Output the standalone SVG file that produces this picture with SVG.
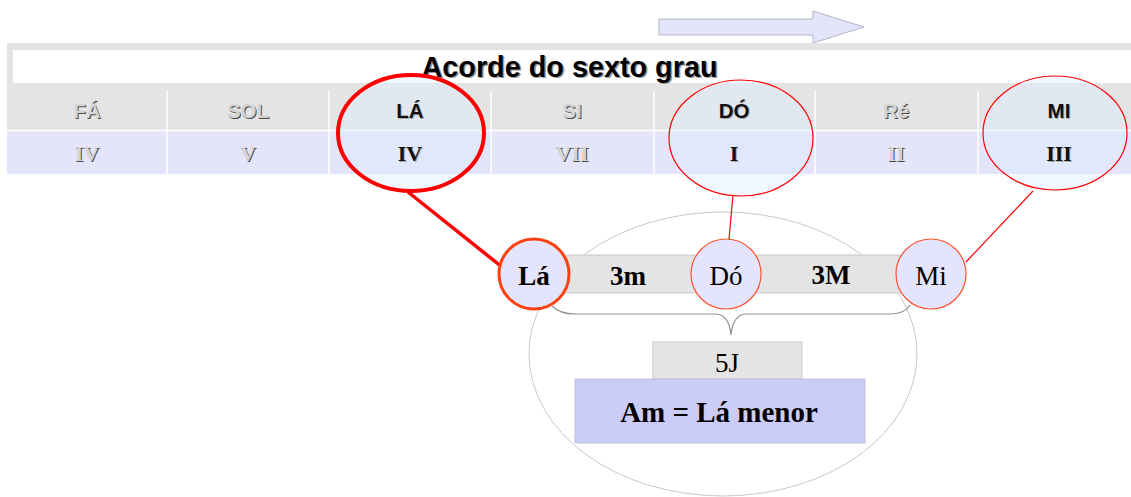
<svg xmlns="http://www.w3.org/2000/svg" width="1131" height="497" viewBox="0 0 1131 497">
<style>
.hd{font-family:"Liberation Sans",Arial,sans-serif;font-weight:bold;font-size:20.5px;text-anchor:middle}
.rn{font-family:"Liberation Serif","Times New Roman",serif;font-weight:bold;font-size:22px;text-anchor:middle}
.dim{fill:#d4d4d4}
.sh{fill:#4a4a4a}
.blk{fill:#111}
.shl{fill:#aaa}
.nt{font-family:"Liberation Serif","Times New Roman",serif;font-size:27px;text-anchor:middle;fill:#000}
.b{font-weight:bold}
.big{font-size:29px}
.sel{fill:#e0eeff;fill-opacity:0.45;stroke:#ff0000}
.nd{fill:#e4e4fc}
.box{fill:#e4e4e4;stroke:#c8c8c8;stroke-width:1}
</style>
<rect width="1131" height="497" fill="#fff"/>
<g id="arrow">
<polygon points="659,19 813,19 813,11 864,27 813,43 813,35 659,35" fill="#e4e4fa" stroke="#b4b4c4" stroke-width="1"/>
</g>
<g id="title">
<rect x="7" y="43" width="1130" height="48" fill="#e4e4e4"/>
<rect x="13" y="50" width="1130" height="33" fill="#fff"/>
<text x="571" y="78" font-family="Liberation Sans, Arial, sans-serif" font-weight="bold" font-size="28.8" text-anchor="middle" fill="#999">Acorde do sexto grau</text>
<text x="569.5" y="76.5" font-family="Liberation Sans, Arial, sans-serif" font-weight="bold" font-size="28.8" text-anchor="middle" fill="#000">Acorde do sexto grau</text>
</g>
<g id="table">
<rect x="7" y="91" width="1130" height="39" fill="#e4e4e4"/>
<rect x="7" y="131" width="1130" height="43" fill="#e4e4fa"/>
<line x1="7" y1="130.5" x2="1131" y2="130.5" stroke="#fff" stroke-width="1.5"/>
<g stroke="#fff" stroke-width="1.5">
<line x1="167" y1="91" x2="167" y2="174"/><line x1="329" y1="91" x2="329" y2="174"/>
<line x1="491" y1="91" x2="491" y2="174"/><line x1="654" y1="91" x2="654" y2="174"/>
<line x1="815" y1="91" x2="815" y2="174"/><line x1="978" y1="91" x2="978" y2="174"/>
</g>
</g>
<g id="sel-la"><ellipse cx="411" cy="133" rx="73" ry="58" class="sel" stroke-width="4"/></g>
<g id="sel-do"><ellipse cx="741" cy="138" rx="72" ry="58" class="sel" stroke-width="1.2"/></g>
<g id="sel-mi"><ellipse cx="1055" cy="133" rx="72" ry="57" class="sel" stroke-width="1.2"/></g>
<g id="table-text">
<g class="hd">
<text x="88" y="119" class="sh">FÁ</text><text x="87" y="118" class="dim">FÁ</text>
<text x="249" y="119" class="sh">SOL</text><text x="248" y="118" class="dim">SOL</text>
<text x="411" y="119" class="shl">LÁ</text><text x="410" y="118" class="blk">LÁ</text>
<text x="573" y="119" class="sh">SI</text><text x="572" y="118" class="dim">SI</text>
<text x="735" y="119" class="shl">DÓ</text><text x="734" y="118" class="blk">DÓ</text>
<text x="897" y="119" class="sh">Ré</text><text x="896" y="118" class="dim">Ré</text>
<text x="1060" y="119" class="shl">MI</text><text x="1059" y="118" class="blk">MI</text>
</g>
<g class="rn">
<text x="88" y="162" class="sh">IV</text><text x="87" y="161" class="dim">IV</text>
<text x="249" y="162" class="sh">V</text><text x="248" y="161" class="dim">V</text>
<text x="411" y="162" class="shl">IV</text><text x="410" y="161" class="blk">IV</text>
<text x="573" y="162" class="sh">VII</text><text x="572" y="161" class="dim">VII</text>
<text x="735" y="162" class="shl">I</text><text x="734" y="161" class="blk">I</text>
<text x="897" y="162" class="sh">II</text><text x="896" y="161" class="dim">II</text>
<text x="1060" y="162" class="shl">III</text><text x="1059" y="161" class="blk">III</text>
</g>
</g>
<g id="group-ellipse">
<ellipse cx="723" cy="354" rx="194" ry="142" fill="none" stroke="#c8c8c8" stroke-width="1"/>
</g>
<g id="connectors" fill="none">
<line x1="408" y1="192" x2="502" y2="267" stroke="#ff0000" stroke-width="3.5"/>
<line x1="733" y1="195" x2="729" y2="239" stroke="#ff0000" stroke-width="1.2"/>
<line x1="1033" y1="191" x2="966" y2="262" stroke="#ff0000" stroke-width="1.2"/>
<path d="M552,306 Q560,314 575,314 L715,314 Q729,314 731,335 Q733,314 747,314 L890,314 Q905,314 910,305" stroke="#909090" stroke-width="1.2"/>
</g>
<g id="bar">
<rect x="555" y="255" width="355" height="38" class="box"/>
<text x="628" y="285" class="nt b">3m</text>
<text x="831" y="284" class="nt b">3M</text>
</g>
<g id="node-la">
<circle cx="534" cy="274" r="35" class="nd" stroke="#ff4010" stroke-width="3"/>
<text x="534" y="285" class="nt b">Lá</text>
</g>
<g id="node-do">
<circle cx="726" cy="274" r="35" class="nd" stroke="#ff5030" stroke-width="1.2"/>
<text x="726" y="285" class="nt">Dó</text>
</g>
<g id="node-mi">
<circle cx="931" cy="274" r="35" class="nd" stroke="#ff5030" stroke-width="1.2"/>
<text x="931" y="285" class="nt">Mi</text>
</g>
<g id="box-5j">
<rect x="653" y="342" width="149" height="37" class="box"/>
<text x="727" y="372" class="nt">5J</text>
</g>
<g id="box-am">
<rect x="575" y="379" width="290" height="64" fill="#ccccf8" stroke="#c0c0e0" stroke-width="1"/>
<text x="719" y="422" class="nt b big">Am = Lá menor</text>
</g>
</svg>
